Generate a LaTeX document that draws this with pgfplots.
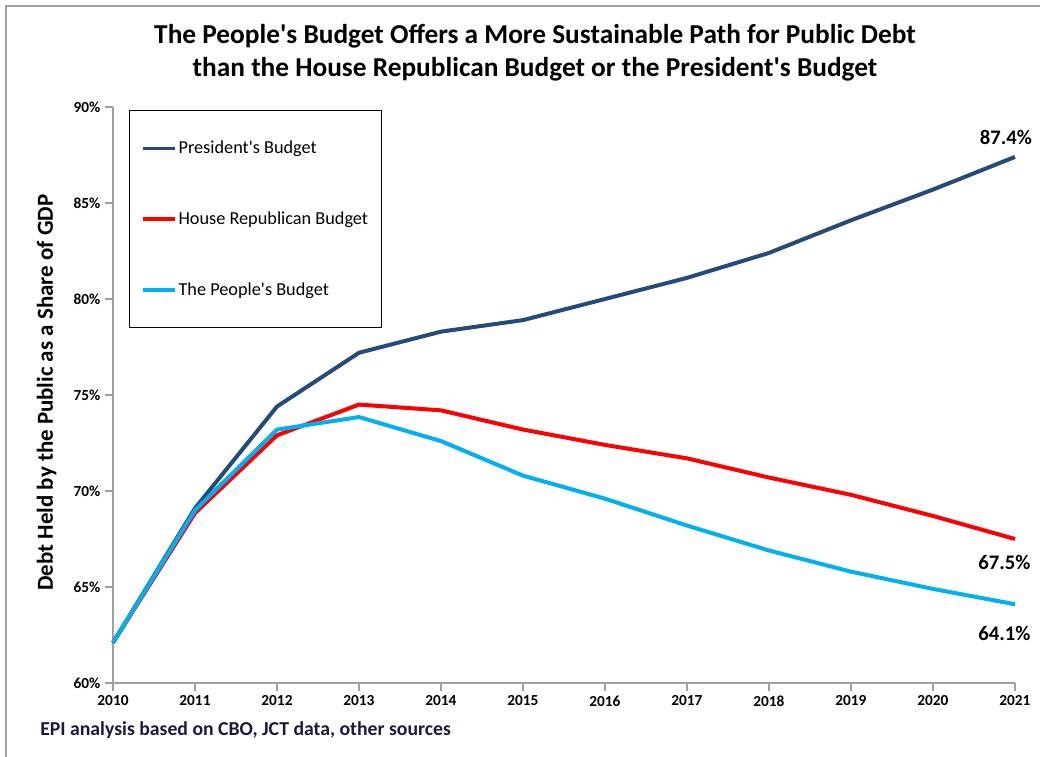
\documentclass[border=0pt]{standalone}
\usepackage{pgfplots}
\pgfplotsset{compat=1.18}
\usepackage{fontspec}
\setmainfont{Carlito}
\newcommand{\q}{\textquotesingle}
\definecolor{presblue}{HTML}{254A7C}
\definecolor{houseRed}{HTML}{FF0000}
\definecolor{peopleBlue}{HTML}{00B0F0}
\definecolor{axisgray}{HTML}{A0A0A0}
\definecolor{notecol}{HTML}{1A1A40}

\begin{document}
\begin{tikzpicture}[x=0.75pt,y=0.75pt]
\useasboundingbox (0,0) rectangle (1040,757);
% outer chart frame (only left and top visible)
\draw[axisgray, line width=0.9pt] (6,0) -- (6,751) -- (1040,751);

\node[font=\fontsize{20.5}{24}\selectfont\bfseries, align=center] at (535,704)
  {The People\q s Budget Offers a More Sustainable Path for Public Debt\\[1pt]than the House Republican Budget or the President\q s Budget};

\begin{axis}[
  at={(84.75pt,55.5pt)}, anchor=south west,
  width=676.5pt, height=432pt, scale only axis,
  xmin=2010, xmax=2021, ymin=60, ymax=90,
  xtick={2010,...,2021}, ytick={60,65,...,90},
  axis x line*=bottom, axis y line*=left,
  axis line style={axisgray, line width=1pt},
  tick style={axisgray, line width=1pt},
  tick align=outside, major tick length=6pt,
  x tick label style={/pgf/number format/1000 sep={}, font=\fontsize{11.5}{13}\selectfont\bfseries},
  y tick label style={font=\fontsize{11.5}{13}\selectfont\bfseries},
  /pgf/number format/assume math mode=true,
  yticklabel={\pgfmathprintnumber{\tick}\%},
  ylabel={Debt Held by the Public as a Share of GDP},
  ylabel style={font=\fontsize{17.2}{19}\selectfont\bfseries, at={(ticklabel cs:0.504,6pt)}},
  clip=false,
  legend cell align=left,
  legend style={at={(rel axis cs:0.0177,0.995)}, anchor=north west,
    draw=black, line width=0.8pt, font=\fontsize{13.7}{16}\selectfont,
    inner xsep=9pt, inner ysep=22pt, row sep=40pt,
    nodes={inner sep=1pt}},
  legend image code/.code={\draw[#1, line width=2.8pt] (0pt,0pt) -- (24pt,0pt);},
]
\addplot[presblue, line width=3pt] coordinates {
 (2010,62.1) (2011,69.1) (2012,74.4) (2013,77.2) (2014,78.3) (2015,78.9)
 (2016,80.0) (2017,81.1) (2018,82.4) (2019,84.1) (2020,85.7) (2021,87.4)};
\addlegendentry{President\q s Budget}
\addplot[houseRed, line width=3pt] coordinates {
 (2010,62.1) (2011,68.85) (2012,72.9) (2013,74.5) (2014,74.2) (2015,73.2)
 (2016,72.4) (2017,71.7) (2018,70.7) (2019,69.8) (2020,68.7) (2021,67.5)};
\addlegendentry{House Republican Budget}
\addplot[peopleBlue, line width=3pt] coordinates {
 (2010,62.1) (2011,69.0) (2012,73.2) (2013,73.85) (2014,72.6) (2015,70.8)
 (2016,69.6) (2017,68.2) (2018,66.9) (2019,65.8) (2020,64.9) (2021,64.1)};
\addlegendentry{The People\q s Budget}

\node[anchor=east, font=\fontsize{15.5}{17}\selectfont\bfseries, inner sep=0pt]
  at (axis cs:2021.21,88.39) {87.4\%};
\node[anchor=east, font=\fontsize{15.5}{17}\selectfont\bfseries, inner sep=0pt]
  at (axis cs:2021.19,66.30) {67.5\%};
\node[anchor=east, font=\fontsize{15.5}{17}\selectfont\bfseries, inner sep=0pt]
  at (axis cs:2021.19,62.60) {64.1\%};
\end{axis}

\node[anchor=west, font=\fontsize{14.8}{17}\selectfont\bfseries, text=notecol, inner sep=0pt]
  at (40,27) {EPI analysis based on CBO, JCT data, other sources};
\end{tikzpicture}
\end{document}
